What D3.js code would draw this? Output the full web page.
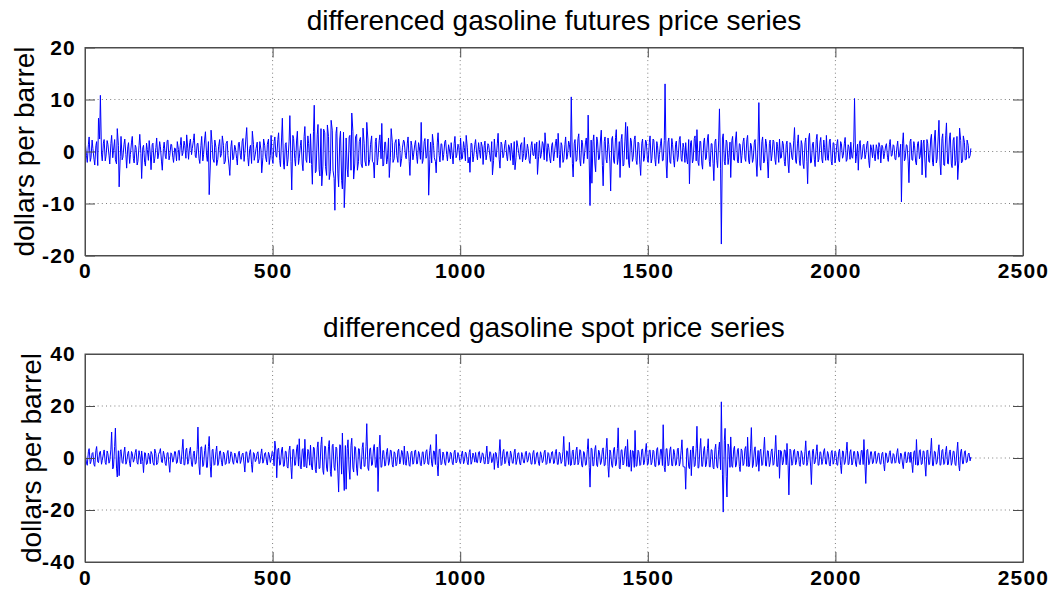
<!DOCTYPE html>
<html>
<head>
<meta charset="utf-8">
<script src="https://cdn.jsdelivr.net/npm/d3@7"></script>
<style>
  html, body { margin: 0; padding: 0; background: #fff; }
  svg { display: block; font-family: "Liberation Sans", Arial, Helvetica, sans-serif; }
  .tick text { font-weight: bold; font-size: 21px; letter-spacing: 1.2px; fill: #000; }
</style>
</head>
<body>
<div id="chart"></div>
<script>
// values: the "A" arrays are days 1, 6, 11, ...
// and the "B" arrays the days in between (4, 9, 14, ...)
const stepDays = 5;

// differenced gasoline futures price series
const futuresA = [
  1.5, -2.1, 2.8, -1.2, 0.6, -2.6, 1.9, 6.4, 10.8, -1.8, 2.3, -0.9, 1.4, -2.4, 3.1, 0.2, -1.6, 4.4, -6.8, 2.9,
  -1.1, 2.4, -3.2, 1.7, -0.6, 2.9, -2.2, 0.8, -1.9, 3.3, -5.2, 1.2, -2.8, 0.4, 2.1, -3.5, 1.6, -1.3, 2.6, -0.7,
  0.9, -3.6, 1.8, -1.4, 2.2, -0.8, 1.3, -2.1, 0.5, 1.9, -1.7, 2.7, -0.3, 1.1, 3.2, -1.5, 2.4, 0.6, 3.4, -1.2,
  1.6, -2.3, 2.9, -0.6, 3.8, -1.9, -8.3, 4.1, -1.4, 2.2, -2.7, 0.9, -1.1, 3.0, -2.4, 1.5, -0.8, -4.6, 2.1, -1.3,
  0.7, -2.6, 1.8, -1.5, 2.5, -0.4, 4.6, -2.8, 1.2, 3.9, -1.7, 0.6, -2.2, 1.9, -4.1, 2.4, -0.9, 1.4, -2.5, 3.1,
  -2.3, 2.8, -1.1, 3.6, -2.9, 6.4, -3.4, 1.7, -1.6, 6.9, -7.4, 2.5, -2.8, 3.9, -1.3, 2.2, -3.7, 4.8, -2.1, 1.5,
  3.4, -6.3, 8.9, -3.8, 5.2, -4.7, -6.6, 4.3, -2.9, 5.1, -5.4, 6.0, -3.6, -11.3, 4.7, -6.8, 3.9, -7.2, -10.8, 2.6,
  -4.9, 3.1, 7.4, -5.3, 2.8, -3.6, 1.9, -2.4, 4.5, -1.8, 5.6, -2.7, 1.3, -1.9, -5.1, 2.6, -1.2, 3.2, 5.4, -2.6,
  1.8, -1.5, -5.0, 4.4, -2.1, 1.6, -0.8, 2.4, -2.9, 0.7, 1.9, -1.4, 2.8, -4.6, 1.2, -0.5, 2.1, -2.3, 0.9, 5.6,
  -1.7, 2.5, -0.9, -8.4, 1.8, 3.3, -1.2, -4.1, 3.6, -2.0, 1.4, -0.6, 2.2, -1.8, 0.5, 1.7, -2.4, 2.9, -0.7, 1.1,
  2.6, -1.3, 0.8, 3.1, -2.2, -4.0, 1.5, -0.9, 2.3, -1.6, 0.4, 1.8, -2.5, 2.0, -0.6, 1.2, -1.9, -4.5, 2.4, -1.1,
  3.5, -3.2, 1.4, -0.7, 2.2, -1.8, 0.9, 1.6, -2.6, -3.5, 2.1, -0.4, 1.3, -2.0, 2.7, -1.2, 0.6, -2.3, 1.9, -0.8,
  -1.4, -4.4, 2.1, -0.6, 1.5, 3.6, -1.9, 0.8, -2.2, 1.7, -0.5, 2.4, 3.5, -3.1, 1.2, -1.6, 2.8, -0.9, 1.4, 10.5,
  -4.9, 2.3, -1.6, 3.4, -2.8, 1.7, -0.9, 2.6, 7.0, -10.4, -6.1, 3.2, -3.9, 2.0, -1.4, 4.1, -6.6, 2.8, -2.2, 1.3,
  -7.6, 2.9, -2.3, 4.2, -1.5, -5.0, 3.3, -2.6, 5.6, 4.8, -3.1, 2.1, -1.2, 3.0, -2.5, 1.6, -4.6, 2.4, -1.3, 1.9,
  -2.1, 3.0, -1.4, 2.2, -2.8, 1.1, -0.6, 2.5, -1.7, 13.0, -5.1, 2.6, -2.3, 1.4, -3.0, 2.0, -1.1, 2.9, -1.9, 0.8,
  1.7, -2.4, -6.2, 2.1, -1.6, 3.0, 4.2, -2.7, 1.9, -3.4, 2.6, -1.3, 3.3, -2.9, 1.5, -5.6, 2.4, -3.1, 8.2, -17.8,
  3.4, -2.6, 1.8, -1.2, -5.0, 2.9, -1.7, 3.8, -2.2, 1.4, -0.8, 2.6, -1.9, 3.1, -2.4, 1.2, -1.5, 2.3, -4.8, 9.4,
  -3.6, 2.8, -1.9, 1.6, -5.1, 2.2, -0.7, 1.9, -2.5, 0.9, 2.4, -1.2, 1.5, -2.8, 2.0, -4.1, 1.3, -1.6, 4.6, -2.3,
  3.2, -2.7, 1.4, -3.3, 2.6, -6.2, 3.5, -2.1, 1.8, -2.9, 3.3, -1.5, 2.7, -2.2, 0.8, 3.1, -1.7, 2.4, -2.6, 1.6,
  -1.2, 2.3, -2.0, 1.5, -0.8, 2.7, -1.6, 0.9, 1.8, -1.3, 10.2, -0.9, -3.6, 2.1, -1.1, 1.4, -0.6, 2.0, -3.1, 0.7,
  1.3, -1.8, 0.6, 1.7, -2.2, 0.9, -0.4, 1.5, -1.9, 2.3, -0.8, 1.1, -1.6, 2.0, -0.7, -9.7, 3.6, -1.4, 1.2, -6.0,
  2.4, -1.7, 1.1, -2.6, 1.9, -0.8, -4.5, 2.2, -5.0, 1.6, -2.1, 3.3, -2.8, 4.1, -1.5, 6.0, -4.5, 3.4, -2.7, 5.5,
  -2.4, 3.6, -3.1, 2.7, -1.8, -5.4, 4.5, -2.2, 3.0, -1.6, 2.2, -1.3, 0.6
];
const futuresB = [
  -0.8, 1.3, -1.9, 2.2, -1.5, 1.1, -2.7, 2.4, -0.5, 1.6, -1.8, 2.1, -0.7, 1.5, -1.2, 2.3, -2.4, 1.2, -0.9, -1.6,
  1.4, -0.6, 0.9, -2.3, 1.8, -1.4, 1.2, -2.6, 1.1, -0.4, 0.7, -2.1, 1.6, -1.7, -0.5, 1.3, -2.2, 0.8, -1.4, 1.9,
  -2.0, 0.6, -0.9, 2.1, -1.6, 1.4, -1.1, 0.7, -1.8, 0.4, 1.2, -0.8, 2.0, -1.3, 0.5, 1.7, -0.6, 2.1, -0.9, 1.5,
  -1.4, 1.1, -1.8, 2.4, -0.7, 1.9, -2.6, 1.3, -2.1, 0.8, -1.5, 2.3, -0.4, 1.2, -1.9, 2.0, -2.8, 0.9, -1.6, 1.2,
  -1.3, 1.6, -0.7, 2.0, -1.9, 2.8, -1.1, 0.6, -2.3, 1.4, -0.5, 1.8, -1.4, 0.3, -1.2, 1.1, -2.0, 2.4, -0.8, -1.5,
  1.9, -0.8, 2.3, -1.7, 2.6, -2.2, 1.4, -2.8, 2.0, -1.9, 3.1, -1.4, 2.2, -2.5, 1.1, -2.4, 2.9, -1.6, 3.0, -2.2,
  -2.5, 3.8, -4.1, 3.2, -3.5, 4.4, -2.8, 3.6, -4.6, 2.9, -3.8, 4.1, -5.2, 3.5, -4.3, 2.4, -5.6, 3.7, -4.9, -3.4,
  2.8, -3.6, 3.9, -2.4, 3.3, -1.9, 2.7, -3.1, 1.6, -2.8, 2.4, -1.5, 3.0, -2.2, 1.9, -2.6, 2.1, -1.4, -2.8, 1.8,
  -2.4, 2.6, -1.1, 1.8, -1.4, 2.3, -2.1, 0.9, -1.3, 2.2, -0.8, 1.6, -1.9, 2.0, -1.6, 1.4, -0.9, 1.7, -1.5, -2.3,
  1.9, -1.3, 2.4, -1.6, -2.2, 1.2, -1.9, 1.8, -0.8, 1.5, -1.7, 1.9, -0.6, 1.3, -1.4, -0.7, 1.6, -1.2, 1.4, -1.7,
  -1.5, 1.9, -1.8, 0.7, -1.1, 1.6, -2.0, 1.4, -0.6, 1.7, -1.3, 0.9, 1.1, -1.6, 1.5, -0.8, 1.9, -1.7, -0.9, 1.6,
  -1.6, 1.8, -1.2, 1.5, -0.9, 1.3, -1.7, -0.5, 1.9, -1.1, 0.8, -1.5, 1.7, -0.4, -1.6, 1.4, -1.8, 1.1, -0.7, 1.5,
  1.8, -0.9, -1.3, 1.9, -1.6, 0.7, 1.5, -1.4, 1.2, -1.8, 1.6, -1.2, -0.6, 1.7, -2.1, 1.3, -1.5, 2.0, -1.1, -2.3,
  1.6, -1.9, 2.5, -1.7, 2.2, -2.3, 1.8, -1.4, -2.6, 2.2, 1.9, -2.4, 2.8, -1.6, 2.4, -2.7, 1.9, -1.5, 2.6, -2.0,
  2.4, -1.8, 2.7, -2.5, 1.9, 2.3, -2.8, 2.0, -1.5, -2.2, 2.6, -1.9, 2.3, -1.7, 1.8, -2.5, 1.6, -1.9, 2.2, -1.6,
  1.7, -2.2, 2.4, -1.5, 1.9, -2.3, 1.6, -1.8, 2.1, -2.6, 1.8, -2.0, 2.5, -1.7, 1.4, -1.9, 2.3, -1.4, 1.6, -2.1,
  -1.5, 2.3, 1.7, -2.2, 2.5, -1.8, -2.1, 2.0, -2.4, 1.8, -1.6, 2.4, -1.9, 1.5, -2.3, 1.9, -1.7, 2.2, -3.2, 2.6,
  -1.9, 2.2, -2.5, 1.8, 2.1, -1.6, 2.4, -1.9, 1.5, -2.2, 1.9, -1.4, 2.3, -1.8, 1.6, -2.1, 1.8, -2.4, 2.0, -2.6,
  1.9, -2.2, 2.4, -2.0, 1.5, -1.8, 2.2, -1.6, 1.8, -2.1, -1.3, 2.0, -1.9, 1.4, -2.4, 1.7, -1.2, 2.1, -1.8, 1.6,
  -1.8, 2.1, -2.4, 1.7, -1.9, 2.6, -2.2, 1.5, -1.6, 2.3, -2.0, 1.8, -1.5, 2.2, -1.7, -1.4, 2.0, -1.9, 1.7, -2.2,
  1.5, -1.7, 1.9, -1.3, 1.6, -1.9, 1.3, -1.5, -1.1, 1.8, -2.2, 1.4, 1.6, -1.5, 1.2, -1.4, 1.5, -1.8, 1.3, -1.2,
  -0.9, 1.3, -1.5, 0.8, 1.2, -1.4, 1.1, -1.2, 1.4, -0.9, 1.3, -1.5, 0.9, -1.1, 1.4, 1.6, -1.8, 1.3, -2.0, 1.9,
  -1.6, 1.9, -2.1, 1.5, -1.4, 2.2, 1.6, -2.4, 2.3, -1.9, 2.4, -2.1, 2.6, -2.2, 2.8, -2.4, 2.5, -2.6, 3.0, -2.3,
  2.6, -2.4, 2.2, -2.7, 2.9, -1.8, 2.1, -1.9, 1.7, -1.5, 1.2, -0.8
];

// differenced gasoline spot price series
const spotA = [
  1.2, -2.8, 3.6, -1.4, 2.1, -3.2, 4.4, -1.8, 2.6, -0.9, 3.1, -2.5, 1.7, -1.2, 10.0, -3.4, 11.5, -7.3, -6.8, 3.2,
  -2.1, 4.2, -1.5, 2.6, -3.4, 1.8, -0.7, 3.3, -2.4, 1.1, 2.7, -5.6, 1.9, -2.2, 0.8, 2.5, -1.7, 3.4, -2.6, 1.4,
  3.6, -1.8, 1.2, -2.9, 2.1, -5.5, 1.6, -0.9, 2.4, -1.7, 3.0, -2.3, 7.2, -2.6, 3.8, -1.4, 4.1, -3.3, 2.7, -1.9,
  11.9, -6.4, 4.3, -2.8, 5.1, -3.6, 8.3, -7.4, 3.4, -2.5, 4.6, -1.9, 2.7, -3.1, 1.6, -2.2, 2.9, -1.3, 1.8, -2.4,
  1.4, -2.0, 2.6, -1.1, 1.9, -5.4, 2.3, -1.6, 3.2, -5.5, 1.7, -0.8, 2.4, -1.9, 3.5, -1.2, 2.1, -2.7, 1.3, -0.6,
  2.2, 6.5, -7.6, 3.8, -2.4, 4.2, -3.1, 2.5, -3.9, 4.6, -8.0, 3.3, -2.7, 5.1, 7.4, -4.2, 3.6, 7.2, -3.8, 2.6,
  5.0, -4.6, 3.8, -5.7, 6.2, -3.9, 8.1, -6.3, 4.4, -5.2, 6.7, -7.1, 5.3, -4.8, 3.6, -13.1, 4.9, 9.6, -12.5, -12.0,
  7.0, -8.2, 7.6, -5.4, 4.1, -6.7, 3.5, -4.3, 5.9, -3.2, 13.2, -4.8, 3.9, -2.6, 5.2, -3.7, -12.9, 8.8, -3.4, 2.8,
  -2.9, 3.7, -1.6, 2.8, -3.5, 1.9, -2.4, 3.4, -1.1, 2.2, 4.6, -2.8, 1.5, -3.2, 2.6, -1.9, 3.1, -2.2, 1.7, -3.0,
  2.4, -1.7, 3.2, -2.5, 5.1, -3.3, 2.6, 9.1, -6.9, 3.5, -2.2, 1.6, -2.8, 2.3, -1.4, 1.9, -2.6, 3.0, -1.5, 1.2,
  -2.1, 2.7, -1.3, 1.8, -2.6, 3.2, -1.5, 0.9, 2.1, -1.8, 2.5, -0.8, 1.6, -2.3, 4.6, -1.7, 2.2, -1.1, -4.4, 1.9,
  -3.8, 7.1, -2.6, 3.3, -1.7, 2.4, -3.0, 1.6, -2.1, 3.4, -1.2, 2.0, -2.7, 1.3, -1.9, 2.6, -0.9, 1.8, -2.4, 2.9,
  -1.6, 2.2, -2.9, 1.4, -1.1, 3.0, -2.2, 1.7, -0.8, 2.5, -1.9, 3.3, -2.5, 1.8, -1.4, 8.3, -3.1, 2.4, 6.0, -2.7,
  3.1, -2.4, 4.2, -1.8, 2.7, -3.5, 1.9, -2.6, 7.4, -11.2, 3.6, -2.9, 4.8, -3.3, 2.2, -1.6, 3.9, -2.8, 7.6, -7.4,
  2.3, -3.6, 4.1, -2.4, 11.6, -4.2, 3.2, -2.1, 4.5, 7.1, -3.4, -5.1, 2.7, 10.6, -3.0, 2.4, -2.6, 3.5, -1.8, 5.6,
  -2.2, 3.1, -1.7, 2.6, -3.3, 4.0, -2.5, 3.4, 12.8, -5.3, 3.6, -2.7, 4.3, -3.1, 2.2, -2.6, 3.8, -1.9, 7.0, -3.4,
  -12.0, 3.8, -4.1, -6.8, 4.6, -2.9, 12.2, -3.7, 7.5, -3.2, 4.4, -2.6, 7.4, -3.5, 3.1, -4.2, 5.3, -3.9, 6.1, 21.6,
  -20.8, 11.4, -15.0, 4.2, 8.1, -3.6, 4.5, -2.8, 3.7, -5.2, 2.9, -2.3, 4.4, 8.0, -3.1, 11.7, -2.7, 4.3, -2.4, -5.1,
  3.4, -2.6, 8.0, -3.1, 2.7, -1.9, 3.5, -2.4, 8.7, -3.3, -7.8, 2.6, -1.8, 3.0, 5.6, -14.2, 2.9, -2.2, 3.3, -1.7,
  2.4, -3.2, 1.9, -2.5, 6.6, -1.8, 2.8, -10.2, 3.4, -1.6, 5.1, -2.7, 2.2, -1.3, 3.6, -2.4, 1.7, -3.1, 2.9, -1.5,
  2.1, -2.8, 3.4, -6.0, 2.6, -1.7, 6.1, -2.4, 3.2, -1.9, 2.5, -3.3, 1.8, -2.6, 3.0, 7.1, -9.8, 3.3, -2.1, 2.4,
  -1.8, 2.6, -1.2, 1.9, -2.4, 2.2, -5.0, 1.7, -1.5, 2.8, -2.1, 1.3, -1.7, 3.6, -2.2, 1.5, -4.1, 2.4, -1.6, 2.0,
  2.3, -5.6, 2.8, 7.1, -2.7, 3.2, -2.3, 2.6, -7.0, 3.1, -2.4, 7.6, -3.0, 2.4, -1.8, 5.1, -2.6, 3.3, -2.1, 4.5,
  -2.4, 3.1, -1.7, 2.6, -2.9, 6.1, -5.0, 3.4, -2.2, 2.8, -1.6, 1.9, 0.4
];
const spotB = [
  -1.9, 2.4, -2.2, 1.8, -2.6, 2.9, -1.5, 2.2, -2.4, 1.6, -1.8, 2.7, -2.0, 3.4, -4.2, 4.5, -3.9, 2.8, 2.6, -1.7,
  2.3, -2.4, 1.8, -2.1, 2.5, -1.6, 2.2, -1.9, 2.8, -2.3, -1.4, 2.1, -2.5, 1.9, -2.2, 1.4, -2.8, 1.7, -1.8, 2.4,
  -1.5, 2.6, -2.2, 1.9, -2.7, 2.0, -1.6, 2.5, -2.1, 2.8, -1.9, 3.4, -2.7, 3.1, -2.4, 2.9, -2.6, 1.8, -2.4, 3.3,
  -3.1, 4.2, -3.3, 2.9, -3.6, 4.4, -3.2, 3.1, -2.8, 2.5, -2.9, 2.6, -1.8, 2.3, -2.5, 1.9, -2.1, 2.4, -1.6, 1.9,
  -1.6, 1.9, -2.1, 1.5, -2.3, 2.4, -1.8, 2.2, -2.6, 2.1, -1.4, 1.9, -2.2, 1.7, -2.0, 1.8, -1.5, 2.2, -1.7, 2.5,
  -3.0, 2.7, 3.4, -2.8, 3.1, -3.2, 2.6, -3.4, 3.0, -3.6, 3.3, -2.9, 3.5, -3.1, -3.6, 3.2, -3.4, -3.0, 3.3, -2.8,
  -3.6, 4.2, -4.4, 3.9, -4.1, 5.2, -4.8, 4.6, -3.9, 4.4, -5.1, 4.7, -3.6, 4.2, -5.8, 5.1, -6.2, -5.4, 4.8, 3.6,
  -4.6, 4.9, -3.8, 4.4, -4.2, 3.6, -3.9, 4.1, -3.2, 4.5, -3.8, 3.4, -2.9, 3.8, -3.5, 4.2, 3.5, -3.6, 2.9, -3.1,
  2.5, -2.8, 3.1, -2.6, 2.4, -3.0, 2.7, -2.3, 2.9, -2.5, -2.2, 2.6, -2.8, 2.1, -2.4, 2.7, -2.3, 2.5, -2.6, 2.2,
  -2.4, 2.6, -2.3, 2.9, -2.2, 2.7, -2.5, -3.0, 3.2, -2.6, 2.3, -2.1, 2.4, -1.8, 2.2, -2.0, 2.3, -1.9, 2.1, -1.7,
  1.8, -2.2, 2.3, -1.9, 2.1, -2.4, 1.9, -1.6, -1.7, 2.2, -1.9, 2.0, -2.1, 1.6, -2.3, 2.4, -1.8, 1.7, 2.2, -2.0,
  2.6, -2.9, 2.5, -2.2, 2.4, -2.1, 2.7, -1.9, 2.3, -2.5, 1.9, -2.2, 2.1, -1.8, 2.2, -1.6, 2.0, -2.3, 2.1, -2.4,
  2.0, -2.1, 2.4, -1.8, 2.3, -2.5, 2.1, -2.0, 2.3, -2.2, 2.5, -2.4, 2.2, -2.1, 2.6, -3.1, 2.8, -2.5, -2.9, 2.6,
  -2.7, 3.0, -2.6, 3.2, -2.9, 2.5, -2.8, 3.3, -3.6, 3.8, -3.1, 3.4, -2.7, 3.0, -2.5, 3.2, -3.0, 3.6, -3.3, 3.1,
  -2.9, 3.3, -3.1, 3.6, -3.8, 3.0, -2.7, 3.4, -3.2, -3.4, 3.1, 2.8, -3.6, -3.2, 3.0, -2.9, 3.2, -2.6, 3.1, -2.8,
  2.9, -2.6, 3.0, -3.2, 3.4, -2.8, 3.3, -2.9, -3.6, 3.5, -3.0, 3.2, -2.8, 3.3, -2.9, 3.4, -3.1, 3.0, -3.3, -3.5,
  3.6, -3.4, 3.1, 3.4, -3.3, 3.7, -3.9, 3.5, -3.2, 3.0, -3.4, 3.6, -3.3, 3.2, -3.6, 3.4, -3.1, 3.3, -4.5, -6.5,
  6.8, -7.2, 5.4, -3.6, -3.1, 3.4, -3.5, 3.2, -3.3, 3.5, -2.9, 3.6, -3.2, -3.4, 3.8, -3.7, 3.1, -3.3, 2.9, 2.6,
  -2.9, 3.2, -3.0, 2.8, -3.3, 2.6, -2.8, 3.0, -3.2, 3.1, 2.9, -2.7, 3.1, -2.6, -3.0, 3.4, -2.8, 2.9, -2.6, 2.7,
  -2.5, 2.8, -2.4, 2.6, -2.9, 2.7, -3.1, 2.9, -2.3, 2.6, -2.8, 2.4, -2.5, 2.7, -2.3, 2.5, -2.6, 2.3, -2.4, 2.6,
  -2.6, 2.4, -2.9, 2.7, -2.5, 2.8, -2.6, 2.3, -2.7, 2.5, -2.4, 2.6, -2.2, 2.8, -2.5, -3.3, 3.0, -2.6, 2.4, -2.2,
  1.9, -2.1, 1.8, -2.2, 1.7, -2.5, 2.0, -1.8, 2.1, -1.9, 1.7, -2.0, 2.2, -1.8, 1.9, -2.3, 1.6, -1.9, 2.1, -1.7,
  -2.4, 2.2, -2.6, -2.8, 2.9, -2.5, 2.7, -3.1, 2.8, -2.6, 3.0, -2.9, 2.6, -2.4, 2.7, -2.8, 2.9, -2.5, 2.6, -2.7,
  2.5, -2.8, 2.6, -2.4, 2.7, -2.9, 2.4, -2.2, 2.3, -1.8, 1.5, -1.1
];

const xTicks = [0, 500, 1000, 1500, 2000, 2500];
const futuresTicks = [-20, -10, 0, 10, 20];
const spotTicks = [-40, -20, 0, 20, 40];

// put the two sample sets back together in day order
function mergeDays(a, b) {
  const pts = [];
  a.forEach((v, i) => pts.push({day: 1 + i * stepDays, value: v}));
  b.forEach((v, i) => pts.push({day: 4 + i * stepDays, value: v}));
  return pts.sort((p, q) => p.day - q.day);
}

const panels = [
  {title: "differenced gasoline futures price series", points: mergeDays(futuresA, futuresB), ticks: futuresTicks, top: 47.5, labelX: 34},
  {title: "differenced gasoline spot price series", points: mergeDays(spotA, spotB), ticks: spotTicks, top: 354, labelX: 41}
];

const width = 1055, height = 591;
const left = 85, right = 1023, plotH = 208;
const tickLen = 10;

const svg = d3.select("#chart").append("svg")
  .attr("width", width)
  .attr("height", height);

const x = d3.scaleLinear().domain([0, 2500]).range([left, right]);
const fmt = d => String(d);   // plain hyphen minus, no thousands comma

panels.forEach(p => {
  const y = d3.scaleLinear()
    .domain(d3.extent(p.ticks))
    .range([p.top + plotH, p.top]);

  const g = svg.append("g");

  // dotted grid
  const grid = g.append("g").attr("stroke", "#7f7f7f").attr("stroke-dasharray", "1,3.2");
  grid.selectAll(".gx").data(xTicks.slice(1, -1)).enter().append("line")
    .attr("x1", d => x(d)).attr("x2", d => x(d))
    .attr("y1", p.top).attr("y2", p.top + plotH);
  grid.selectAll(".gy").data(p.ticks.slice(1, -1)).enter().append("line")
    .attr("x1", left).attr("x2", right)
    .attr("y1", d => y(d)).attr("y2", d => y(d));

  // the series
  const line = d3.line()
    .x(d => x(d.day))
    .y(d => y(d.value));
  g.append("path")
    .datum(p.points)
    .attr("fill", "none")
    .attr("stroke", "#0000ff")
    .attr("stroke-width", 1)
    .attr("d", line);

  // axes, ticks pointing inward like matlab
  g.append("g")
    .attr("transform", `translate(0,${p.top + plotH})`)
    .call(d3.axisBottom(x).tickValues(xTicks).tickFormat(fmt).tickSizeInner(-tickLen).tickSizeOuter(0).tickPadding(8));
  g.append("g")
    .attr("transform", `translate(0,${p.top})`)
    .call(d3.axisTop(x).tickValues(xTicks).tickSizeInner(-tickLen).tickSizeOuter(0).tickFormat(""));
  g.append("g")
    .attr("transform", `translate(${left},0)`)
    .call(d3.axisLeft(y).tickValues(p.ticks).tickFormat(fmt).tickSizeInner(-tickLen).tickSizeOuter(0).tickPadding(9));
  g.append("g")
    .attr("transform", `translate(${right},0)`)
    .call(d3.axisRight(y).tickValues(p.ticks).tickSizeInner(-tickLen).tickSizeOuter(0).tickFormat(""));

  g.selectAll(".domain, .tick line").attr("stroke", "#4d4d4d");
  g.selectAll(".tick text").attr("font-family", null).attr("font-size", null);

  g.append("rect")
    .attr("x", left).attr("y", p.top)
    .attr("width", right - left).attr("height", plotH)
    .attr("fill", "none")
    .attr("stroke", "#4d4d4d");

  // title
  g.append("text")
    .attr("x", (left + right) / 2)
    .attr("y", p.top - 17.5)
    .attr("text-anchor", "middle")
    .attr("font-size", 28)
    .text(p.title);

  // y label
  g.append("text")
    .attr("transform", `translate(${p.labelX},${p.top + plotH / 2}) rotate(-90)`)
    .attr("text-anchor", "middle")
    .attr("font-size", 28)
    .text("dollars per barrel");
});
</script>
</body>
</html>
